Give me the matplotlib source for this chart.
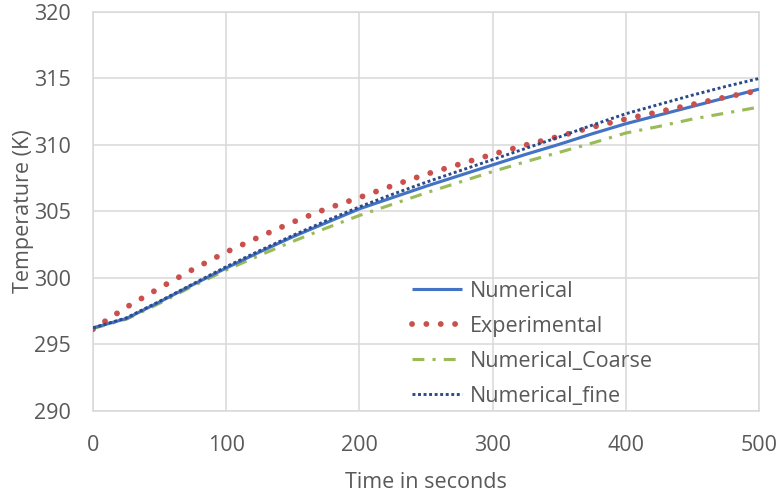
import matplotlib
matplotlib.use("Agg")
import matplotlib.pyplot as plt

# Time (s) and temperature (K) histories
time_s = [0, 25, 50, 75, 100, 125, 150, 175, 200, 225, 250,
          275, 300, 325, 350, 375, 400, 425, 450, 475, 500]
numerical = [296.25, 296.95, 298.2, 299.5, 300.75, 301.95, 303.1, 304.15, 305.2, 306.05, 306.9,
             307.7, 308.5, 309.3, 310.05, 310.85, 311.6, 312.25, 312.9, 313.55, 314.2]
experimental = [296.15, 297.8, 299.25, 300.65, 301.95, 303.1, 304.2, 305.2, 306.05, 306.95, 307.8,
                308.55, 309.3, 310.0, 310.65, 311.35, 311.95, 312.5, 313.05, 313.6, 314.1]
numerical_coarse = [296.2, 296.9, 298.1, 299.4, 300.6, 301.7, 302.75, 303.75, 304.7, 305.55, 306.4,
                    307.2, 308.0, 308.75, 309.45, 310.15, 310.9, 311.4, 311.95, 312.4, 312.85]
numerical_fine = [296.25, 297.0, 298.25, 299.55, 300.85, 302.05, 303.2, 304.3, 305.35, 306.3, 307.2,
                  308.05, 308.9, 309.75, 310.6, 311.5, 312.35, 313.05, 313.75, 314.4, 315.0]

x_ticks = [0, 100, 200, 300, 400, 500]
y_ticks = [290, 295, 300, 305, 310, 315, 320]

plt.rcParams['font.family'] = ['Open Sans', 'DejaVu Sans']
text_grey = '#595959'
grid_grey = '#D9D9D9'
fs = 15.5

fig = plt.figure(figsize=(7.77, 4.97), dpi=100)
ax = fig.add_axes([93 / 777, 1 - 411 / 497, 666 / 777, 399 / 497])

ax.plot(time_s, numerical, color='#4472C4', lw=2.25, solid_capstyle='butt',
        label='Numerical', zorder=3)
ax.plot(time_s, experimental, color='#C9504C', lw=4.2, linestyle=(0, (0.01, 2.45)),
        dash_capstyle='round', label='Experimental', zorder=4)
ax.plot(time_s, numerical_coarse, color='#9BBB59', lw=2.25,
        linestyle=(0, (3.8, 2.6, 1.0, 2.6)), dash_capstyle='butt',
        label='Numerical_Coarse', zorder=2)
ax.plot(time_s, numerical_fine, color='#2A4A88', lw=2.1, linestyle=(0, (1.0, 0.9)),
        dash_capstyle='butt', label='Numerical_fine', zorder=5)

ax.set_xlim(0, 500)
ax.set_ylim(290, 320)
ax.set_xticks(x_ticks)
ax.set_yticks(y_ticks)
ax.grid(True, color=grid_grey, lw=1.1)
ax.set_axisbelow(True)
for s in ax.spines.values():
    s.set_color(grid_grey)
    s.set_linewidth(1.1)
ax.tick_params(length=0, labelsize=fs, labelcolor=text_grey)
ax.tick_params(axis='x', pad=17)
ax.tick_params(axis='y', pad=16)

ax.set_xlabel('Time in seconds', fontsize=fs, color=text_grey, labelpad=12)
ax.set_ylabel('Temperature (K)', fontsize=fs, color=text_grey, labelpad=0)

leg = ax.legend(loc='upper left', bbox_to_anchor=(0.479, 0.327), frameon=False,
                fontsize=fs, handlelength=2.33, handletextpad=0.37, labelspacing=0.65,
                borderpad=0, borderaxespad=0)
for t in leg.get_texts():
    t.set_color(text_grey)

fig.savefig('out.png', dpi=100)
